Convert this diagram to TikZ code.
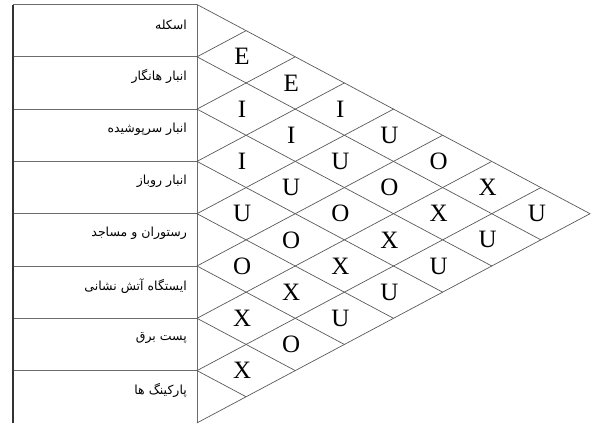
\documentclass[tikz,border=0pt]{standalone}
\usepackage{fontspec}
\newfontfamily\arabicfont[Script=Arabic]{DejaVu Sans}
\newfontfamily\relfont{Liberation Serif}
\TeXXeTstate=1
\usetikzlibrary{positioning,calc}
\tikzset{
  borderln/.style={line width=1.2pt, black!80},
  tableln/.style={line width=1pt, gray!85!black},
  gridln/.style={line width=0.7pt, black!65, line cap=round},
  rowlbl/.style={anchor=east, inner sep=0pt, font=\arabicfont\fontsize{12.5}{14}\selectfont},
  rellbl/.style={inner sep=0pt, font=\relfont\fontsize{25}{28}\selectfont},
}
\newcommand{\rowh}{52.3}
\newcommand{\cellw}{98.25}

\begin{document}
\begin{tikzpicture}[x=1pt,y=-1pt]
    \useasboundingbox (0,0) rectangle (591,423);
    % Row boundaries on the right edge of the table
    \foreach \i in {0,...,8}
      \coordinate (b\i) at (197, {4.5+\rowh*\i});
    \coordinate (tip) at ({197+4*\cellw}, {4.5+4*\rowh});
    % Table
    \draw[tableln] (13,4.5) -- (b0);
    \foreach \i in {1,...,7}
      \draw[tableln] (13,{4.5+\rowh*\i}) -- (b\i);
    \draw[borderln] (13,4.5) -- (13,423);
    \draw[tableln] (b0) -- (b8);
    % Row labels
    \foreach \i/\t in {0/اسکله, 1/انبار هانگار, 2/انبار سرپوشیده, 3/انبار روباز,
                       4/رستوران و مساجد, 5/ایستگاه آتش نشانی, 6/پست برق, 7/پارکینگ ها}
      \node[rowlbl] (lbl\i) at (187, {4.5+\rowh*\i+20}) {\beginR\t\endR};
    % Diamond grid: falling lines end on the lower edge, rising lines on the upper edge
    \foreach \i in {0,...,7}
      \draw[gridln] (b\i) -- ($(b\i)!0.5!(b8)+({(8-\i)/2*\cellw},0)$);
    \foreach \j in {1,...,8}
      \draw[gridln] (b\j) -- ($(b0)!0.5!(b\j)+({\j/2*\cellw},0)$);
    % Relationship codes
    \foreach \a/\b/\r in {0/1/E, 0/2/E, 0/3/I, 0/4/U, 0/5/O, 0/6/X, 0/7/U,
                          1/2/I, 1/3/I, 1/4/U, 1/5/O, 1/6/X, 1/7/U,
                          2/3/I, 2/4/U, 2/5/O, 2/6/X, 2/7/U,
                          3/4/U, 3/5/O, 3/6/X, 3/7/U,
                          4/5/O, 4/6/X, 4/7/U,
                          5/6/X, 5/7/O,
                          6/7/X}
      \node[rellbl] (r\a\b) at ({197+\cellw/2*(\b-\a)-4}, {4.5+\rowh/2*(\a+\b+1)}) {\r};
\end{tikzpicture}
\end{document}
